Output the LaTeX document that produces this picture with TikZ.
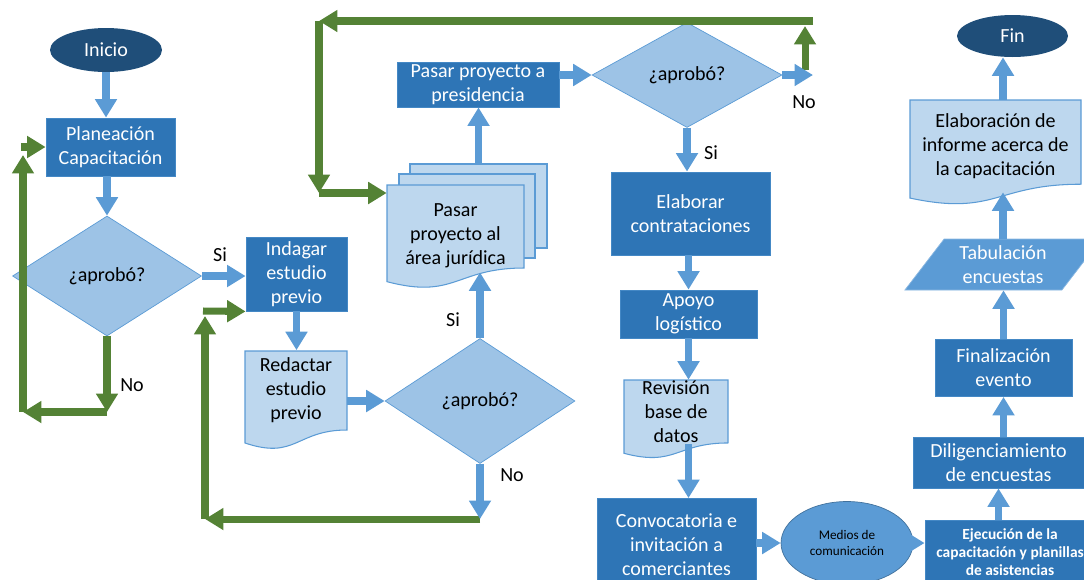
\documentclass[tikz,border=0pt]{standalone}
\usepackage{fontspec}
\setmainfont{Carlito}
\usetikzlibrary{shapes.geometric,arrows.meta}
\definecolor{navy}{HTML}{1F4E79}
\definecolor{boxblue}{HTML}{2E75B6}
\definecolor{midblue}{HTML}{5B9BD5}
\definecolor{edgeblue}{HTML}{41719C}
\definecolor{decfill}{HTML}{9DC3E6}
\definecolor{docfill}{HTML}{BDD7EE}
\definecolor{loopgreen}{HTML}{548235}

% page with a wavy bottom edge: [style]{x1}{y1}{x2}{y2}
\newcommand{\wavypage}[5][]{%
  \pgfmathsetmacro{\wyr}{#3+0.802*(#5-#3)}%
  \pgfmathsetmacro{\wyl}{#3+0.934*(#5-#3)}%
  \pgfmathsetmacro{\wyc}{#3+1.108*(#5-#3)}%
  \pgfmathsetmacro{\wxm}{(#2+#4)/2}%
  \draw[#1] (#2,#3) -- (#4,#3) -- (#4,\wyr) .. controls (\wxm,\wyr) and (\wxm,\wyc) .. (#2,\wyl) -- cycle;}

\begin{document}
\begin{tikzpicture}[x=0.02cm,y=-0.02cm,
    every node/.style={font=\fontsize{11.4}{13.6}\selectfont},
    terminal/.style={ellipse,fill=navy,text=white,inner sep=0pt},
    procbox/.style={rectangle,fill=boxblue,draw=midblue!50!boxblue,line width=0.5pt,text=white,align=center,inner sep=0pt},
    decision/.style={diamond,fill=decfill,draw=midblue,inner sep=0pt},
    pagefill/.style={fill=docfill,draw=midblue,line width=0.6pt},
    sheet/.style={rectangle,pagefill,inner sep=0pt},
    pagetext/.style={align=center,inner sep=0pt},
    barrow/.style={draw=midblue,line width=4.5pt,-{Triangle[width=12pt,length=10.5pt]}},
    garrow/.style={draw=loopgreen,line width=4pt,-{Triangle[width=12pt,length=10.5pt]}}]
  \useasboundingbox (0,0) rectangle (1084,579);
  \clip (0,0) rectangle (1084,579); % the page cuts the last boxes

  % first column
  \node[terminal,minimum width=2.24cm,minimum height=0.88cm] (inicio) at (106,50) {Inicio};
  \node[procbox,minimum width=2.58cm,minimum height=1.16cm] (planea) at (110.5,147) {Planeación\\Capacitación};
  \node[decision,minimum width=3.78cm,minimum height=2.4cm] (aprob1) at (107,276) {¿aprobó?};

  % estudio previo
  \node[procbox,minimum width=2.02cm,minimum height=1.48cm] (indagar) at (296.5,274) {Indagar\\estudio\\previo};
  \wavypage[pagefill]{245}{351}{347}{449.5}
  \node[pagetext,minimum width=2.04cm,minimum height=1.58cm] (redactar) at (296,390) {Redactar\\estudio\\previo};
  \node[decision,minimum width=3.8cm,minimum height=2.5cm] (aprob2) at (480,401) {¿aprobó?};

  % area juridica (three pages)
  \node[sheet,minimum width=2.74cm,minimum height=1.68cm] (jback) at (478.5,206) {};
  \node[sheet,minimum width=2.72cm,minimum height=1.68cm] (jmid) at (467,216) {};
  \wavypage[pagefill]{387}{185}{524}{288.5}
  \node[pagetext,minimum width=2.74cm,minimum height=1.44cm] (juridica) at (455.5,236) {Pasar\\proyecto al\\área jurídica};
  \node[procbox,minimum width=3.24cm,minimum height=0.9cm] (presid) at (478,84.5) {Pasar proyecto a\\presidencia};
  \node[decision,minimum width=3.8cm,minimum height=2.1cm] (aprob3) at (687,75) {¿aprobó?};

  % logistics column
  \node[procbox,minimum width=3.18cm,minimum height=1.66cm] (contrat) at (690.5,213.5) {Elaborar\\contrataciones};
  \node[procbox,minimum width=2.74cm,minimum height=0.96cm] (apoyo) at (688.5,314) {Apoyo\\logístico};
  \wavypage[pagefill]{624}{380}{728}{458.5}
  \node[pagetext,minimum width=2.08cm,minimum height=1.28cm] (revision) at (676,412) {Revisión\\base de\\datos};
  \node[procbox,minimum width=3.18cm,minimum height=1.86cm] (convoc) at (676.5,545) {Convocatoria e\\invitación a\\comerciantes};
  \node[ellipse,fill=midblue,draw=edgeblue,inner sep=0pt,align=center,minimum width=2.64cm,minimum height=1.66cm,
        font=\fontsize{7.5}{8.6}\selectfont] (medios) at (847,543) {Medios de\\comunicación};

  % last column, going up
  \node[procbox,minimum width=3.4cm,minimum height=1.28cm,font=\bfseries\fontsize{8.8}{10.2}\selectfont] (ejec) at (1010,552)
       {Ejecución de la\\capacitación y planillas\\de asistencias};
  \node[procbox,minimum width=3.42cm,minimum height=1.02cm] (dilig) at (998.5,462.5) {Diligenciamiento\\de encuestas};
  \node[procbox,minimum width=2.74cm,minimum height=1.14cm] (final) at (1003.5,368) {Finalización\\evento};
  \node[trapezium,trapezium left angle=52.6,trapezium right angle=127.4,trapezium stretches=true,
        fill=midblue,draw=midblue!70!white,text=white,align=center,inner sep=0pt,
        minimum width=3.96cm,minimum height=1.02cm] (tabul) at (1003,264.5) {Tabulación\\encuestas};
  \wavypage[pagefill]{910}{100}{1081}{205}
  \node[pagetext,minimum width=3.42cm,minimum height=1.84cm] (informe) at (995.5,146) {Elaboración de\\informe acerca de\\la capacitación};
  \node[terminal,minimum width=2.22cm,minimum height=0.84cm] (fin) at (1012.5,36) {Fin};

  % answers
  \node (si1) at (220,255) {Si};
  \node (no1) at (132,385) {No};
  \node (si2) at (453,320) {Si};
  \node (no2) at (512,475) {No};
  \node (si3) at (711,153) {Si};
  \node (no3) at (804,102) {No};

  % corners of the return loops
  \coordinate (ret1)  at (107,412);
  \coordinate (ret1l) at (23,412);
  \coordinate (ret1t) at (23,155);
  \coordinate (ret1s) at (21,147);
  \coordinate (ret2)  at (480,519);
  \coordinate (ret2l) at (205,519);
  \coordinate (ret2t) at (205,316);
  \coordinate (ret2s) at (203,311);
  \coordinate (rej)   at (813,75);
  \coordinate (up3)   at (805,70);
  \coordinate (up3t)  at (805,26);
  \coordinate (top3r) at (813,21);
  \coordinate (top3l) at (319,21);
  \coordinate (top3b) at (319,193);

  % green returns
  \draw[garrow] (aprob1.south) -- (ret1);
  \draw[garrow] (ret1) -- (ret1l);
  \draw[garrow] (ret1l) -- (ret1t);
  \draw[garrow] (ret1s) -- (planea.west);
  \draw[garrow] (ret2) -- (ret2l);
  \draw[garrow] (ret2l) -- (ret2t);
  \draw[garrow] (ret2s) -- (indagar.south west);
  \draw[garrow] (up3) -- (up3t);
  \draw[garrow] (top3r) -- (top3l);
  \draw[garrow] (top3l) -- (top3b);
  \draw[garrow] (top3b) -- (top3b -| juridica.west);

  % blue flow
  \draw[barrow] (inicio.south) -- (inicio.south |- planea.north);
  \draw[barrow] (aprob1.north |- planea.south) -- (aprob1.north);
  \draw[barrow] (aprob1.east) -- (aprob1.east -| indagar.west);
  \draw[barrow] (indagar.south) -- (indagar.south |- redactar.north);
  \draw[barrow] (aprob2.west -| redactar.east) -- (aprob2.west);
  \draw[barrow] (aprob2.south) -- (ret2);
  \draw[barrow] (aprob2.north) -- (aprob2.north |- juridica.south);
  \draw[barrow] (jback.north) -- (jback.north |- presid.south);
  \draw[barrow] (presid.east |- aprob3.west) -- (aprob3.west);
  \draw[barrow] (aprob3.east) -- (rej);
  \draw[barrow] (aprob3.south) -- (aprob3.south |- contrat.north);
  \draw[barrow] (apoyo.north |- contrat.south) -- (apoyo.north);
  \draw[barrow] (apoyo.south) -- (apoyo.south |- revision.north);
  \draw[barrow] (apoyo.south |- revision.south) -- (apoyo.south |- convoc.north);
  \draw[barrow] (convoc.east |- medios.west) -- (medios.west);
  \draw[barrow] (medios.east) -- (medios.east -| ejec.west);
  \draw[barrow] (dilig.south |- ejec.north) -- (dilig.south);
  \draw[barrow] (final.south |- dilig.north) -- (final.south);
  \draw[barrow] (final.north) -- (final.north |- tabul.south);
  \draw[barrow] (tabul.north) -- (tabul.north |- informe.south);
  \draw[barrow] (tabul.north |- informe.north) -- (tabul.north |- fin.south);
\end{tikzpicture}
\end{document}
